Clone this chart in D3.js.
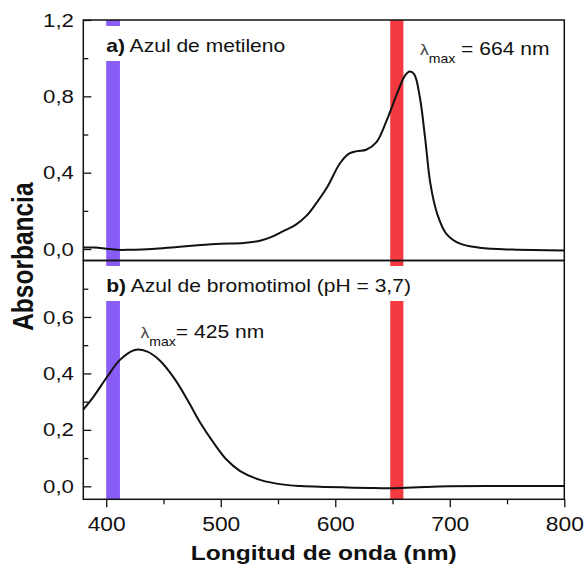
<!DOCTYPE html>
<html>
<head>
<meta charset="utf-8">
<script src="https://cdn.jsdelivr.net/npm/d3@7"></script>
<style>
  body { margin: 0; background: #fff; }
  text { font-family: "Liberation Sans", Arial, sans-serif; fill: #111; }
</style>
</head>
<body>
<div id="chart"></div>
<script>
/* DATA */
// a) methylene blue spectrum (nm, absorbance)
const mbWavelength = [380, 390, 400, 410, 420, 440, 460, 480, 500, 520, 535, 545, 555, 565, 575, 581, 593, 604, 612, 619, 627, 636, 645, 654, 661, 665, 669, 674, 678.5, 683, 689, 697, 709, 726, 755, 800];
const mbAbsorbance = [0.008, 0.008, 0.002, -0.004, -0.004, 0.0, 0.01, 0.02, 0.028, 0.032, 0.045, 0.065, 0.095, 0.125, 0.175, 0.22, 0.325, 0.448, 0.5, 0.513, 0.52, 0.56, 0.675, 0.815, 0.91, 0.93, 0.915, 0.79, 0.58, 0.345, 0.185, 0.08, 0.028, 0.007, -0.003, -0.007];

// b) bromothymol blue spectrum, pH 3.7
const bbWavelength = [380, 389, 401, 412, 425, 436, 447, 459, 471, 482, 494, 505, 517, 535, 555, 570, 590, 610, 630, 648, 662, 680, 700, 750, 800];
const bbAbsorbance = [0.272, 0.318, 0.389, 0.448, 0.483, 0.477, 0.445, 0.385, 0.306, 0.226, 0.153, 0.095, 0.054, 0.022, 0.006, 0.001, -0.002, -0.004, -0.006, -0.007, -0.005, -0.002, 0.0, 0.001, 0.001];

// highlighted wavelength bands (nm)
const bands = [
  { from: 400, to: 412, color: "#8a5cf6" },
  { from: 648, to: 659.5, color: "#f43a40" }
];

const xTicks = [400, 500, 600, 700, 800];
const xMinor = [450, 550, 650, 750];
const topTicks = [0, 0.4, 0.8, 1.2];
const topMinor = [0.2, 0.6, 1.0];
const botTicks = [0, 0.2, 0.4, 0.6];
const botMinor = [0.1, 0.3, 0.5, 0.7];

/* LAYOUT */
const width = 585, height = 567;
const left = 83.3, right = 564.3;
const topPanel = { y0: 20, y1: 260.5 };
const botPanel = { y0: 260.5, y1: 499.3 };
const sx = 1.17; // the text in the figure is stretched sideways

const svg = d3.select("#chart").append("svg")
  .attr("width", width)
  .attr("height", height);

const x = d3.scaleLinear().domain([380, 800]).range([left, right]);
const yTop = d3.scaleLinear().domain([-0.06, 1.2]).range([topPanel.y1, topPanel.y0]);
const yBot = d3.scaleLinear().domain([-0.046, 0.8]).range([botPanel.y1, botPanel.y0]);

const comma = d => d.toFixed(1).replace(".", ",");

// bands span both panels
svg.append("g")
  .selectAll("rect")
  .data(bands)
  .join("rect")
  .attr("x", d => x(d.from))
  .attr("width", d => x(d.to) - x(d.from))
  .attr("y", topPanel.y0)
  .attr("height", botPanel.y1 - topPanel.y0)
  .attr("fill", d => d.color);

// white label boxes (interrupt the bands)
svg.append("rect").attr("x", x(392)).attr("y", 26).attr("width", 200).attr("height", 35).attr("fill", "#fff");
svg.append("rect").attr("x", x(392)).attr("y", 266).attr("width", 325).attr("height", 35).attr("fill", "#fff");

const line = yScale => d3.line()
  .x(d => x(d[0]))
  .y(d => yScale(d[1]))
  .curve(d3.curveCatmullRom);

svg.append("path")
  .datum(d3.zip(mbWavelength, mbAbsorbance))
  .attr("fill", "none")
  .attr("stroke", "#111")
  .attr("stroke-width", 2)
  .attr("d", line(yTop));

svg.append("path")
  .datum(d3.zip(bbWavelength, bbAbsorbance))
  .attr("fill", "none")
  .attr("stroke", "#111")
  .attr("stroke-width", 2)
  .attr("d", line(yBot));

// AXES
function yAxes(scale, major, minor) {
  const g = svg.append("g").attr("transform", `translate(${left},0)`);
  g.append("g")
    .call(d3.axisLeft(scale).tickValues(major).tickFormat(comma).tickSizeInner(-8).tickSizeOuter(0).tickPadding(8))
    .call(s => s.select(".domain").remove())
    .call(s => s.selectAll("text").attr("font-size", 19).attr("fill", "#111").attr("transform", `scale(${sx},1)`))
    .call(s => s.selectAll("line").attr("stroke", "#111").attr("stroke-width", 1.3));
  g.append("g")
    .call(d3.axisLeft(scale).tickValues(minor).tickFormat("").tickSizeInner(-5).tickSizeOuter(0))
    .call(s => s.select(".domain").remove())
    .call(s => s.selectAll("line").attr("stroke", "#111").attr("stroke-width", 1.3));
}
yAxes(yTop, topTicks, topMinor);
yAxes(yBot, botTicks, botMinor);

const xg = svg.append("g").attr("transform", `translate(0,${botPanel.y1})`);
xg.append("g")
  .call(d3.axisBottom(x).tickValues(xTicks).tickFormat(d3.format("d")).tickSizeInner(8).tickSizeOuter(0).tickPadding(10))
  .call(s => s.select(".domain").remove())
  .call(s => s.selectAll("text").attr("font-size", 19.5).attr("fill", "#111").attr("transform", `scale(${sx},1)`))
  .call(s => s.selectAll("line").attr("stroke", "#111").attr("stroke-width", 1.3));
xg.append("g")
  .call(d3.axisBottom(x).tickValues(xMinor).tickFormat("").tickSizeInner(5).tickSizeOuter(0))
  .call(s => s.select(".domain").remove())
  .call(s => s.selectAll("line").attr("stroke", "#111").attr("stroke-width", 1.3));

// frames
[topPanel, botPanel].forEach(p => {
  svg.append("rect")
    .attr("x", left)
    .attr("y", p.y0)
    .attr("width", right - left)
    .attr("height", p.y1 - p.y0)
    .attr("fill", "none")
    .attr("stroke", "#111")
    .attr("stroke-width", 1.5);
});

// stretched text helper
function label(px, py, size) {
  return svg.append("text")
    .attr("transform", `translate(${px},${py}) scale(${sx},1)`)
    .attr("font-size", size);
}

// panel labels
const la = label(x(400), 52, 18);
la.append("tspan").attr("font-weight", "bold").text("a)");
la.append("tspan").text(" Azul de metileno");

const lb = label(x(400), 292, 18);
lb.append("tspan").attr("font-weight", "bold").text("b)");
lb.append("tspan").text(" Azul de bromotimol (pH = 3,7)");

function lambda(px, py, rest) {
  const t = label(px, py, 18);
  t.append("tspan").attr("font-size", 15).attr("fill", "#444").text("λ");
  t.append("tspan").attr("font-size", 12).attr("dy", 8).text("max");
  t.append("tspan").attr("dy", -8).text(rest);
}
lambda(x(674), 55, " = 664 nm");
lambda(x(430), 338, "= 425 nm");

// axis titles
label((left + right) / 2, 560, 21)
  .attr("text-anchor", "middle")
  .attr("font-weight", "bold")
  .text("Longitud de onda (nm)");

svg.append("text")
  .attr("transform", `translate(33,${(topPanel.y0 + botPanel.y1) / 2 - 3}) scale(${sx},1) rotate(-90)`)
  .attr("text-anchor", "middle")
  .attr("font-size", 24.5)
  .attr("font-weight", "bold")
  .text("Absorbancia");
</script>
</body>
</html>
